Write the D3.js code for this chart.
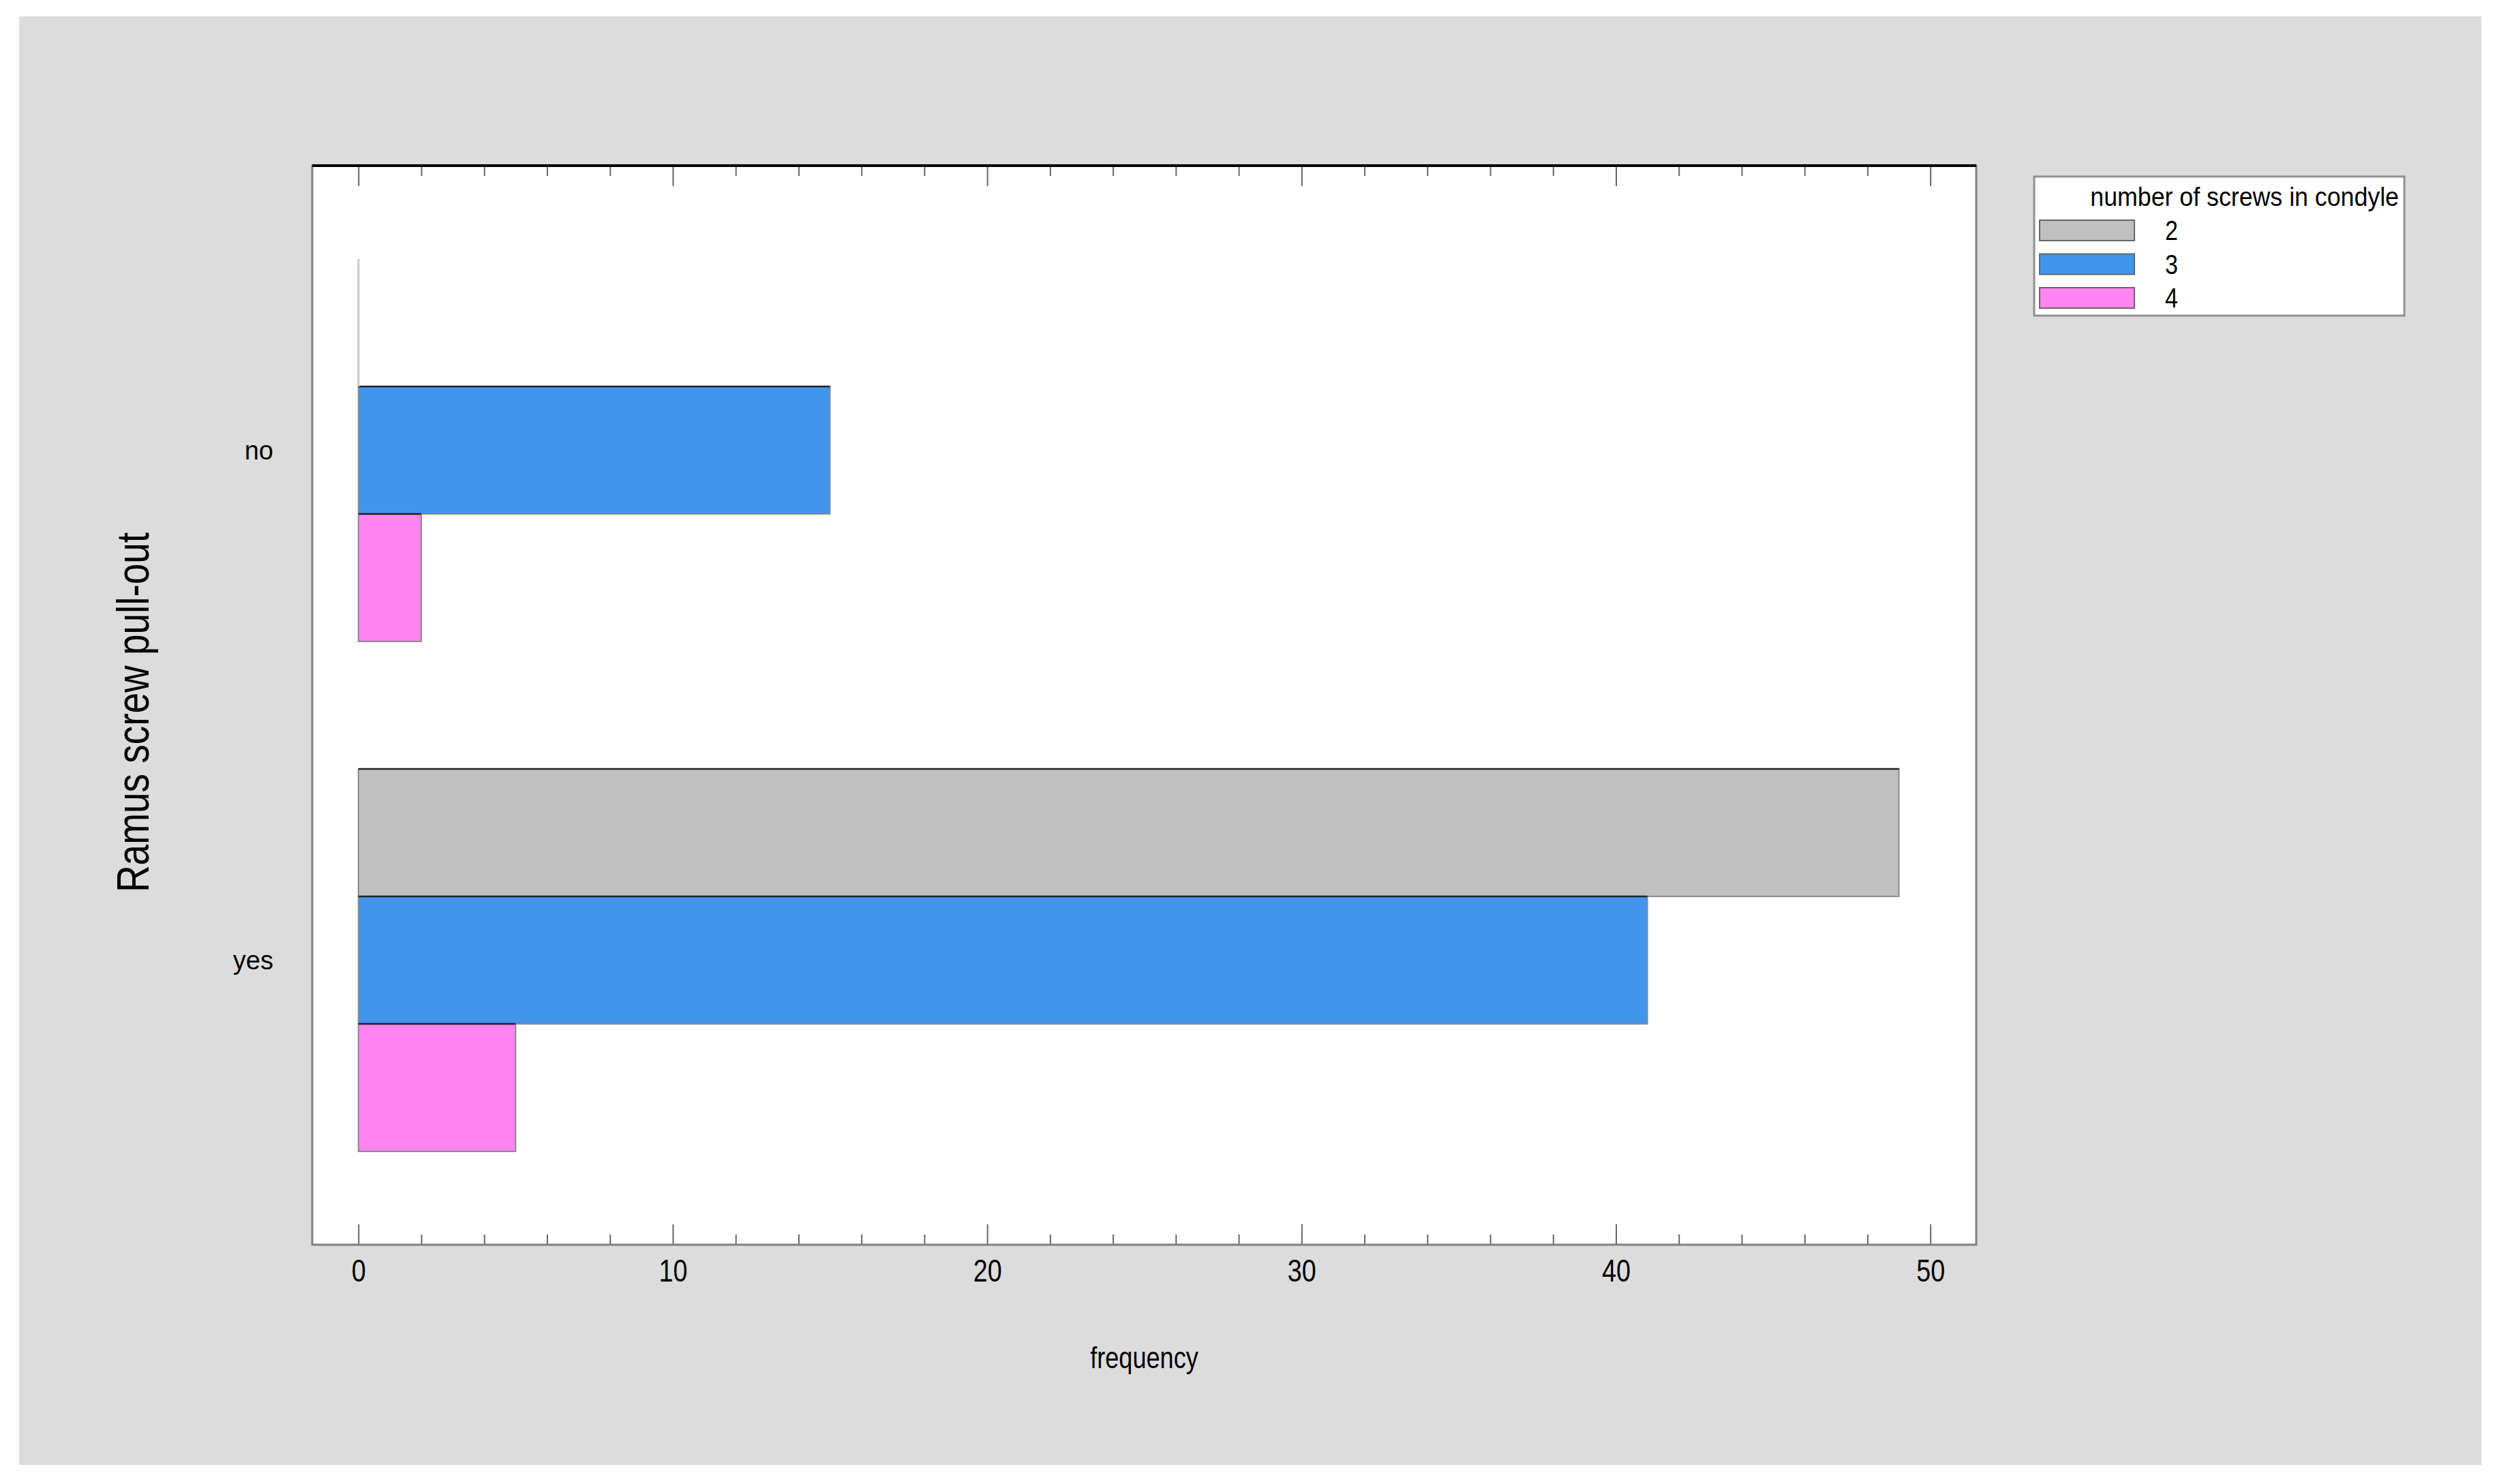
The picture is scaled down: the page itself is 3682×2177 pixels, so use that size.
<!DOCTYPE html>
<html>
<head>
<meta charset="utf-8">
<script src="https://cdn.jsdelivr.net/npm/d3@7"></script>
<style>
  body { margin: 0; background: #fff; }
  text { font-family: "Liberation Sans", Arial, sans-serif; fill: #000; }
</style>
</head>
<body>
<svg id="chart" width="3682" height="2177"></svg>
<script>
// data
const categories = ["no", "yes"]
const seriesNames = ["2", "3", "4"]
const screws2 = [0, 49]
const screws3 = [15, 41]
const screws4 = [2, 5]
const majorTicks = [0, 10, 20, 30, 40, 50]
const minorTicks = d3.range(2, 50, 2).filter(d => d % 10 !== 0)

const seriesColors = ["#c0c0c0", "#4295ec", "#ff85f0"]
const seriesValues = [screws2, screws3, screws4]

const svg = d3.select("#chart")
const plot = { left: 458, right: 2899, top: 243, bottom: 1826 }

// squeeze text horizontally, the original uses a narrow face
function squeeze(sel, k) {
  sel.each(function () {
    const len = this.getComputedTextLength()
    d3.select(this).attr("textLength", len * k).attr("lengthAdjust", "spacingAndGlyphs")
  })
}

// grey panel behind everything
svg.append("rect")
  .attr("x", 28).attr("y", 24)
  .attr("width", 3640 - 28).attr("height", 2149 - 24)
  .attr("fill", "#dcdcdc")

svg.append("rect")
  .attr("x", plot.left).attr("y", plot.top)
  .attr("width", plot.right - plot.left).attr("height", plot.bottom - plot.top)
  .attr("fill", "#fff")

const x = d3.scaleLinear().domain([-1.47, 51.46]).range([plot.left, plot.right])
const y = d3.scaleBand().domain(categories).range([plot.top, plot.bottom])
  .paddingInner(0.25).paddingOuter(0.183)
const ySub = d3.scaleBand().domain(seriesNames).range([0, y.bandwidth()])

// bars
const rows = []
categories.forEach((cat, i) => {
  seriesNames.forEach((s, j) => {
    rows.push({ cat: cat, series: s, value: seriesValues[j][i], color: seriesColors[j] })
  })
})

const bars = svg.append("g")
bars.selectAll("rect")
  .data(rows.filter(d => d.value > 0))
  .join("rect")
  .attr("x", x(0))
  .attr("y", d => y(d.cat) + ySub(d.series))
  .attr("width", d => x(d.value) - x(0))
  .attr("height", ySub.bandwidth())
  .attr("fill", d => d.color)
  .attr("stroke", "#8a8a8a")
  .attr("stroke-width", 2)

// top edge of each bar is darker
bars.selectAll("line.top")
  .data(rows.filter(d => d.value > 0))
  .join("line")
  .attr("class", "top")
  .attr("x1", x(0))
  .attr("x2", d => x(d.value))
  .attr("y1", d => y(d.cat) + ySub(d.series))
  .attr("y2", d => y(d.cat) + ySub(d.series))
  .attr("stroke", "#222")
  .attr("stroke-width", 2.5)

// a zero count still leaves a thin outline
bars.selectAll("line.zero")
  .data(rows.filter(d => d.value === 0))
  .join("line")
  .attr("class", "zero")
  .attr("x1", d => x(d.value))
  .attr("x2", d => x(d.value))
  .attr("y1", d => y(d.cat) + ySub(d.series))
  .attr("y2", d => y(d.cat) + ySub(d.series) + ySub.bandwidth())
  .attr("stroke", "#c8c8c8")
  .attr("stroke-width", 3)

// ticks, pointing inwards from top and bottom
function tickAxis(axis, ty) {
  const g = svg.append("g").attr("transform", `translate(0,${ty})`).call(axis)
  g.select(".domain").remove()
  g.selectAll(".tick line").attr("stroke", "#666").attr("stroke-width", 2)
  return g
}
const bottomAxis = tickAxis(d3.axisBottom(x).tickValues(majorTicks).tickSize(-30).tickPadding(21), plot.bottom)
bottomAxis.selectAll("text")
  .attr("font-size", 46)
  .attr("font-family", "Liberation Sans, Arial, sans-serif")
  .attr("fill", "#000")
  .call(squeeze, 0.82)
tickAxis(d3.axisBottom(x).tickValues(minorTicks).tickSize(-15).tickFormat(""), plot.bottom)
tickAxis(d3.axisTop(x).tickValues(majorTicks).tickSize(-30).tickFormat(""), plot.top)
tickAxis(d3.axisTop(x).tickValues(minorTicks).tickSize(-15).tickFormat(""), plot.top)

// frame
svg.append("rect")
  .attr("x", plot.left).attr("y", plot.top)
  .attr("width", plot.right - plot.left).attr("height", plot.bottom - plot.top)
  .attr("fill", "none").attr("stroke", "#808080").attr("stroke-width", 3)
svg.append("line")
  .attr("x1", plot.left).attr("x2", plot.right)
  .attr("y1", plot.top).attr("y2", plot.top)
  .attr("stroke", "#000").attr("stroke-width", 4)

// category labels
svg.append("g").selectAll("text")
  .data(categories)
  .join("text")
  .attr("x", 401)
  .attr("y", d => y(d) + y.bandwidth() / 2)
  .attr("dy", "0.35em")
  .attr("text-anchor", "end")
  .attr("font-size", 38)
  .text(d => d)

// axis titles
svg.append("text")
  .attr("x", (plot.left + plot.right) / 2)
  .attr("y", 2007)
  .attr("text-anchor", "middle")
  .attr("font-size", 44)
  .text("frequency")
  .call(squeeze, 0.82)

svg.append("text")
  .attr("transform", "translate(218,1045) rotate(-90)")
  .attr("text-anchor", "middle")
  .attr("font-size", 67)
  .text("Ramus screw pull-out")
  .call(squeeze, 0.82)

// legend
const legend = svg.append("g")
legend.append("rect")
  .attr("x", 2984).attr("y", 259)
  .attr("width", 3527 - 2984).attr("height", 463 - 259)
  .attr("fill", "#fff").attr("stroke", "#909090").attr("stroke-width", 3)
legend.append("text")
  .attr("x", 3519).attr("y", 302)
  .attr("text-anchor", "end")
  .attr("font-size", 38)
  .text("number of screws in condyle")
  .call(squeeze, 0.94)

const legendRows = legend.selectAll("g.item")
  .data(seriesNames)
  .join("g")
  .attr("class", "item")
  .attr("transform", (d, i) => `translate(2992,${323 + i * 49.5})`)
legendRows.append("rect")
  .attr("width", 139).attr("height", 30)
  .attr("fill", (d, i) => seriesColors[i])
  .attr("stroke", "#666").attr("stroke-width", 2)
legendRows.append("text")
  .attr("x", 184).attr("y", 29)
  .attr("font-size", 40)
  .text(d => d)
  .call(squeeze, 0.85)
</script>
</body>
</html>
